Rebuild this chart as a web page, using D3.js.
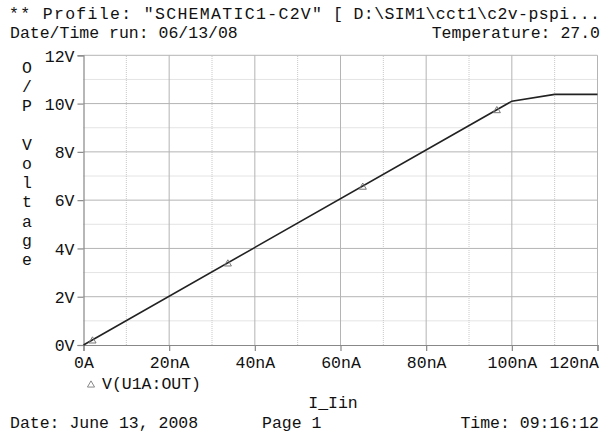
<!DOCTYPE html>
<html>
<head>
<meta charset="utf-8">
<script src="https://cdn.jsdelivr.net/npm/d3@7"></script>
<style>
  html, body { margin: 0; padding: 0; background: #fff; }
  svg { display: block; }
  text { font-family: "Liberation Mono", "Courier New", monospace; fill: #111; }
</style>
</head>
<body>
<svg id="chart" width="605" height="436"></svg>
<script>
// ---- data ----
const currentNA = [0, 100, 110, 120];
const voltageV = [0, 10.1, 10.38, 10.38];
const markerNA = [2.1, 33.7, 65.2, 96.5];
const markerV = [0.21, 3.40, 6.58, 9.75];
const xTicks = [0, 20, 40, 60, 80, 100, 120];
const xTickLabels = ["0A", "20nA", "40nA", "60nA", "80nA", "100nA", "120nA"];
const yTicks = [0, 2, 4, 6, 8, 10, 12];
const yTickLabels = ["0V", "2V", "4V", "6V", "8V", "10V", "12V"];
const yLabelChars = ["O", "/", "P", "", "V", "o", "l", "t", "a", "g", "e"];

const svg = d3.select("#chart");
const fs = 16.5;

const x = d3.scaleLinear().domain([0, 120]).range([83.5, 597.5]);
const y = d3.scaleLinear().domain([0, 12]).range([345, 55.3]);

// minor grid (dotted)
const minorX = d3.range(10, 120, 20);
const minorY = d3.range(1, 12, 2);
const g = svg.append("g");
g.selectAll(".mx").data(minorX).enter().append("line")
  .attr("x1", d => x(d)).attr("x2", d => x(d))
  .attr("y1", y(0)).attr("y2", y(12))
  .attr("stroke", "#c8c8c8").attr("stroke-width", 1).attr("stroke-dasharray", "1,1");
g.selectAll(".my").data(minorY).enter().append("line")
  .attr("x1", x(0)).attr("x2", x(120))
  .attr("y1", d => y(d)).attr("y2", d => y(d))
  .attr("stroke", "#c8c8c8").attr("stroke-width", 1).attr("stroke-dasharray", "1,1");
// major grid
g.selectAll(".gx").data(xTicks.slice(1)).enter().append("line")
  .attr("x1", d => x(d)).attr("x2", d => x(d))
  .attr("y1", y(0)).attr("y2", y(12))
  .attr("stroke", "#b4b4b4").attr("stroke-width", 1);
g.selectAll(".gy").data(yTicks.slice(1)).enter().append("line")
  .attr("x1", x(0)).attr("x2", x(120))
  .attr("y1", d => y(d)).attr("y2", d => y(d))
  .attr("stroke", "#b4b4b4").attr("stroke-width", 1);

// axes
const xAxis = d3.axisBottom(x).tickValues(xTicks).tickFormat((d, i) => xTickLabels[i]).tickSize(6).tickPadding(5);
const yAxis = d3.axisLeft(y).tickValues(yTicks).tickFormat((d, i) => yTickLabels[i]).tickSize(6).tickPadding(3);
const gx = svg.append("g").attr("transform", `translate(0,${y(0)})`).call(xAxis);
const gy = svg.append("g").attr("transform", `translate(${x(0)},0)`).call(yAxis);
[gx, gy].forEach(a => {
  a.select(".domain").attr("stroke", "#888").attr("stroke-width", 1.2);
  a.selectAll(".tick line").attr("stroke", "#888").attr("stroke-width", 1.2);
  a.selectAll(".tick text").attr("font-family", '"Liberation Mono", monospace').attr("font-size", fs).attr("fill", "#111");
});
gy.selectAll(".tick text").attr("dy", "0.35em");
// last x label kept inside the page
gx.selectAll(".tick text").filter((d, i) => i === xTicks.length - 1)
  .attr("text-anchor", "end").attr("dx", 1);

// line
const line = d3.line().x((d, i) => x(currentNA[i])).y((d, i) => y(voltageV[i]));
svg.append("path").datum(voltageV).attr("d", line)
  .attr("fill", "none").attr("stroke", "#222").attr("stroke-width", 1.6);

// markers
const tri = d3.symbol().type(d3.symbolTriangle).size(22);
svg.selectAll(".mk").data(markerV).enter().append("path")
  .attr("d", tri)
  .attr("transform", (d, i) => `translate(${x(markerNA[i])},${y(d) + 1})`)
  .attr("fill", "none").attr("stroke", "#777").attr("stroke-width", 1);

// y label stacked
svg.selectAll(".yl").data(yLabelChars).enter().append("text")
  .attr("x", 27).attr("y", (d, i) => 73 + i * 19.2)
  .attr("text-anchor", "middle").attr("font-size", fs).text(d => d);

// header
svg.append("text").attr("x", 9).attr("y", 19).attr("font-size", fs)
  .attr("textLength", 313).attr("lengthAdjust", "spacing")
  .text('** Profile: "SCHEMATIC1-C2V"');
svg.append("text").attr("x", 333).attr("y", 19).attr("font-size", fs)
  .attr("textLength", 267).attr("lengthAdjust", "spacing")
  .text('[ D:\\SIM1\\cct1\\c2v-pspi...');
svg.append("text").attr("x", 10).attr("y", 38).attr("font-size", fs).text("Date/Time run: 06/13/08");
svg.append("text").attr("x", 600).attr("y", 38).attr("font-size", fs).attr("text-anchor", "end").text("Temperature: 27.0");

// legend
svg.append("path").attr("d", tri).attr("transform", `translate(91,385)`)
  .attr("fill", "none").attr("stroke", "#888").attr("stroke-width", 1);
svg.append("text").attr("x", 102).attr("y", 389).attr("font-size", fs).text("V(U1A:OUT)");

// x title
svg.append("text").attr("x", 333).attr("y", 408).attr("font-size", fs).attr("text-anchor", "middle").text("I_Iin");

// footer
svg.append("text").attr("x", 10).attr("y", 428).attr("font-size", fs).text("Date: June 13, 2008");
svg.append("text").attr("x", 262).attr("y", 428).attr("font-size", fs).text("Page 1");
svg.append("text").attr("x", 599).attr("y", 428).attr("font-size", fs).attr("text-anchor", "end").text("Time: 09:16:12");
</script>
</body>
</html>
